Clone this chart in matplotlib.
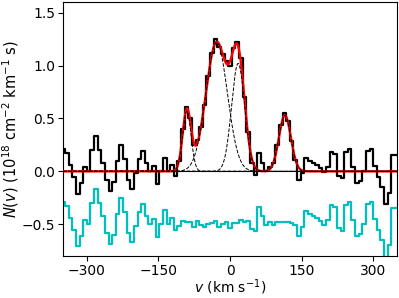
import numpy as np
import matplotlib
matplotlib.use("Agg")
import matplotlib.pyplot as plt

# velocity channels (km/s), 7.6 km/s wide, centred on 0
dv = 7.6
vel = dv * np.arange(-46, 47)

# observed N(v) in 1e18 cm^-2 km^-1 s
nv_left = [0.21, 0.17, 0.06, -0.05, -0.21, -0.11, 0.04, 0.00, 0.20, 0.33,
           0.20, 0.08, -0.08, -0.19, -0.10, 0.10, 0.25, 0.12, -0.08, -0.17,
           -0.02, 0.12, 0.19, 0.08, 0.00, 0.05, -0.12, 0.00, 0.13, 0.00,
           0.06, -0.04]
nv_mid = [0.10, 0.40, 0.61, 0.50, 0.25, 0.30, 0.42, 0.63, 0.90, 1.12,
          1.25, 1.18, 1.11, 1.04, 1.00, 1.17, 1.22, 1.07, 0.70, 0.37,
          0.08, -0.03, 0.17, 0.08, 0.00, 0.04, 0.08, 0.25, 0.44, 0.55,
          0.48, 0.29, 0.11, -0.08, -0.02]
nv_right = [0.13, 0.10, 0.08, 0.06, 0.035, -0.01, 0.04, 0.18, 0.16, -0.04,
            -0.06, 0.18, 0.21, 0.04, -0.11, -0.09, 0.00, 0.19, 0.21, 0.05,
            -0.05, -0.15, -0.31, -0.20, 0.15, 0.15]
nv = np.array(nv_left + nv_mid + nv_right)

# gaussian components: amplitude, centre, sigma
amps = [0.57, 1.22, 1.02, 0.53]
cents = [-90.5, -28.0, 17.0, 115.0]
sigmas = [8.8, 22.5, 13.8, 12.5]

resid_offset = -0.5


def gauss(x, a, c, s):
    return a * np.exp(-0.5 * ((x - c) / s) ** 2)


def model(x):
    return sum(gauss(x, a, c, s) for a, c, s in zip(amps, cents, sigmas))


fig = plt.figure(figsize=(3.99, 2.98), dpi=100)
ax = fig.add_axes([0.158, 0.141, 0.837, 0.852])

xx = np.linspace(-350, 350, 1400)
ax.axhline(0, color="k", lw=0.8, zorder=1)
ax.step(vel, nv, where="mid", color="k", lw=1.6, zorder=2)
ax.step(vel, nv - model(vel) + resid_offset, where="mid", color="c", lw=1.6, zorder=2)
ax.plot(xx, model(xx), color="r", lw=1.7, zorder=3)
for a, c, s in zip(amps, cents, sigmas):
    ax.plot(xx, gauss(xx, a, c, s), color="k", ls="--", lw=0.7, zorder=4)

ax.set_xlim(-350, 350)
ax.set_ylim(-0.8, 1.6)
ax.set_xticks([-300, -150, 0, 150, 300])
ax.set_yticks([-0.5, 0.0, 0.5, 1.0, 1.5])
ax.tick_params(labelsize=10, pad=2)
ax.set_xlabel(r"$v$ (km s$^{-1}$)", fontsize=10, labelpad=0)
ax.set_ylabel(r"$N(v)$ (10$^{18}$ cm$^{-2}$ km$^{-1}$ s)", fontsize=10.5, labelpad=1)

fig.savefig("out.png", dpi=100)
